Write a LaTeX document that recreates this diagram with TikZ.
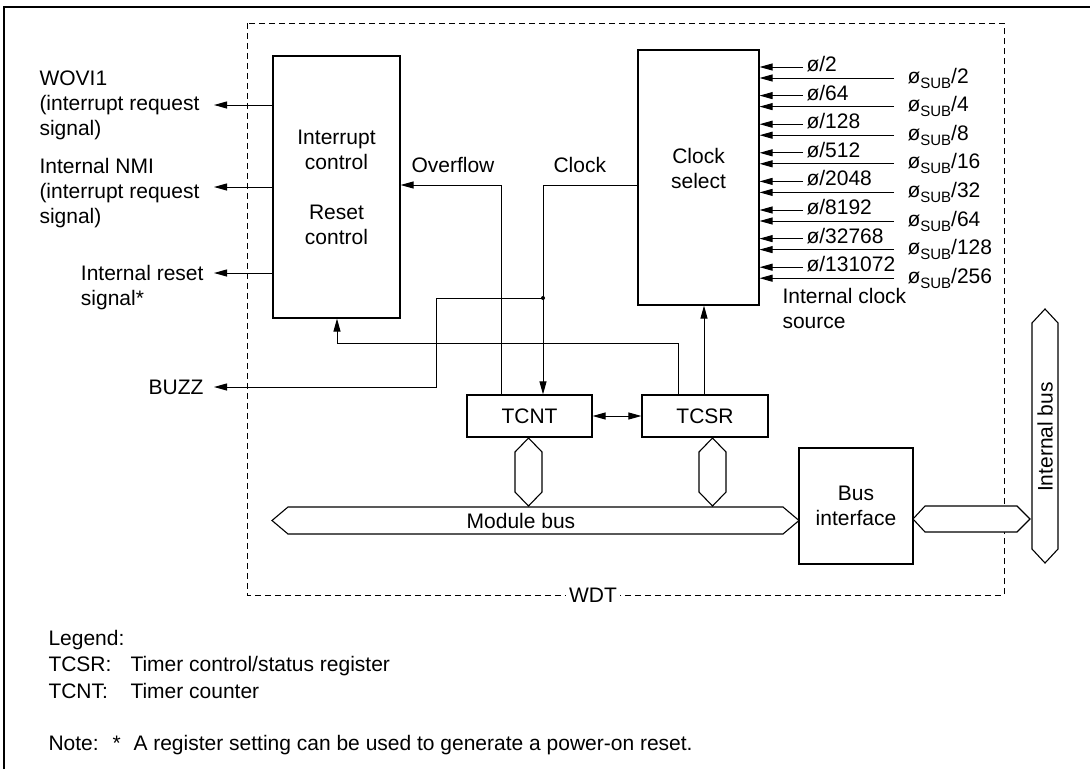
\documentclass[tikz,border=0pt]{standalone}
\usepackage{fontspec}
\setmainfont{Liberation Sans}
\usetikzlibrary{arrows.meta}
\begin{document}
\begin{tikzpicture}[x=1pt,y=-1pt,
  font=\fontsize{21}{25}\selectfont,
  line width=1pt,
  box/.style={draw, rectangle, inner sep=0pt, line width=1.2pt, align=center},
  arr/.style={-{Triangle[length=13pt,width=7pt]}},
  darr/.style={{Triangle[length=13pt,width=7pt]}-{Triangle[length=13pt,width=7pt]}},
  txt/.style={inner sep=0pt, align=left},
  bus/.style={draw, fill=white, line width=1.1pt, line join=miter}]
\useasboundingbox (0,0) rectangle (1090,769);
% outer frame
\draw[line width=2pt] (4,769) -- (4,7) -- (1090,7);
% WDT dashed box
\draw[line width=1pt, dash pattern=on 6pt off 4pt] (247,23) rectangle (1004,595);
\node[fill=white, inner sep=3pt] (wdt) at (593,595) {WDT};

% blocks
\node[box, minimum width=127pt, minimum height=262pt] (intc) at (336.5,187)
  {Interrupt\\control\\[25pt]Reset\\control};
\node[box, minimum width=121pt, minimum height=255pt] (clksel) at (698.5,177.5) {};
\node[txt, align=center, anchor=base] (clkselt) at (698.5,188) {Clock\\select};
\node[box, minimum width=125pt, minimum height=42pt] (tcnt) at (529.5,416) {TCNT};
\node[box, minimum width=126pt, minimum height=42pt] (tcsr) at (705,416) {TCSR};
\node[box, minimum width=114pt, minimum height=116pt] (busif) at (856,506) {Bus\\interface};

% buses
\draw[bus] (528.5,438) -- (542,452) -- (542,492) -- (528.5,506) -- (515,492) -- (515,452) -- cycle;
\draw[bus] (712.5,438) -- (726,452) -- (726,492) -- (712.5,506) -- (699,492) -- (699,452) -- cycle;
\draw[bus] (272,520.5) -- (288,507) -- (783,507) -- (799,520.5) -- (783,534) -- (288,534) -- cycle;
\node[inner sep=0pt] (modbus) at (521,520.5) {Module bus};
\draw[bus] (913,519) -- (925,506) -- (1017,506) -- (1030,519) -- (1017,532) -- (925,532) -- cycle;
\draw[bus] (1045,309) -- (1058,323) -- (1058,549) -- (1045,563) -- (1032,549) -- (1032,323) -- cycle;
\node[inner sep=0pt, rotate=90] (intbus) at (1045,437) {Internal bus};

% left outputs (base anchor = baseline of last line)
\node[txt, anchor=base west] (wovi) at (39,135) {WOVI1\\(interrupt request\\signal)};
\node[txt, anchor=base west] (nmi) at (39,223) {Internal NMI\\(interrupt request\\signal)};
\node[txt, anchor=base east] (rst) at (204,305) {Internal reset\\signal*};
\node[txt, anchor=base east] (buzz) at (204,394) {BUZZ};
\coordinate (wo) at (214,105);
\coordinate (nm) at (214,187);
\coordinate (rs) at (214,273);
\coordinate (bz) at (214,387);
\draw[arr] (intc.west |- wo) -- (wo);
\draw[arr] (intc.west |- nm) -- (nm);
\draw[arr] (intc.west |- rs) -- (rs);

% overflow
\coordinate (ovf) at (501,185);
\node[txt, anchor=base west] (ovfl) at (411,172) {Overflow};
\draw[arr] (tcnt.north -| ovf) -- (ovf) -- (intc.east |- ovf);
% clock
\coordinate (clk) at (543,185);
\node[txt, anchor=base west] (clkl) at (553,172) {Clock};
\draw[arr] (clksel.west |- clk) -- (clk) -- (tcnt.north -| clk);
% buzz
\coordinate (jn) at (543,298);
\coordinate (bzc) at (436,298);
\fill (jn) circle (2pt);
\draw[arr] (jn) -- (bzc) -- (bzc |- bz) -- (bz);
% reset feedback
\coordinate (rf) at (678,343);
\coordinate (rfl) at (337,343);
\draw[arr] (tcsr.north -| rf) -- (rf) -- (rfl) -- (intc.south -| rfl);
% TCSR to clock select
\coordinate (cs) at (704,395);
\draw[arr] (tcsr.north -| cs) -- (clksel.south -| cs);
% TCNT <-> TCSR
\draw[darr] (tcnt.east) -- (tcsr.west);

% clock inputs
\foreach \i/\t in {0/2,1/64,2/128,3/512,4/2048,5/8192,6/32768,7/131072}{
  \coordinate (p\i) at (803,{67+28.6*\i});
  \draw[arr] (p\i) -- (clksel.east |- p\i);
  \node[txt, anchor=base west] (pl\i) at (806,{71.5+28.6*\i}) {ø/\t};
}
\foreach \i/\t in {0/2,1/4,2/8,3/16,4/32,5/64,6/128,7/256}{
  \coordinate (s\i) at (894,{78+28.6*\i});
  \draw[arr] (s\i) -- (clksel.east |- s\i);
  \node[txt, anchor=base west] (sl\i) at (907,{83+28.6*\i})
    {ø\raisebox{-5pt}{\fontsize{15}{15}\selectfont SUB}/\t};
}
\node[txt, anchor=base west] (ics) at (782,328) {Internal clock\\source};

% legend
\node[txt, anchor=base west] (leg) at (48,645) {Legend:};
\node[txt, anchor=base west] (lg1) at (48,671) {TCSR:};
\node[txt, anchor=base west] (lg1t) at (130,671) {Timer control/status register};
\node[txt, anchor=base west] (lg2) at (48,698) {TCNT:};
\node[txt, anchor=base west] (lg2t) at (130,698) {Timer counter};
\node[txt, anchor=base west] (note) at (48,750) {Note:};
\node[txt, anchor=base west] (star) at (112,750) {*};
\node[txt, anchor=base west] (notet) at (133,750) {A register setting can be used to generate a power-on reset.};
\end{tikzpicture}
\end{document}
